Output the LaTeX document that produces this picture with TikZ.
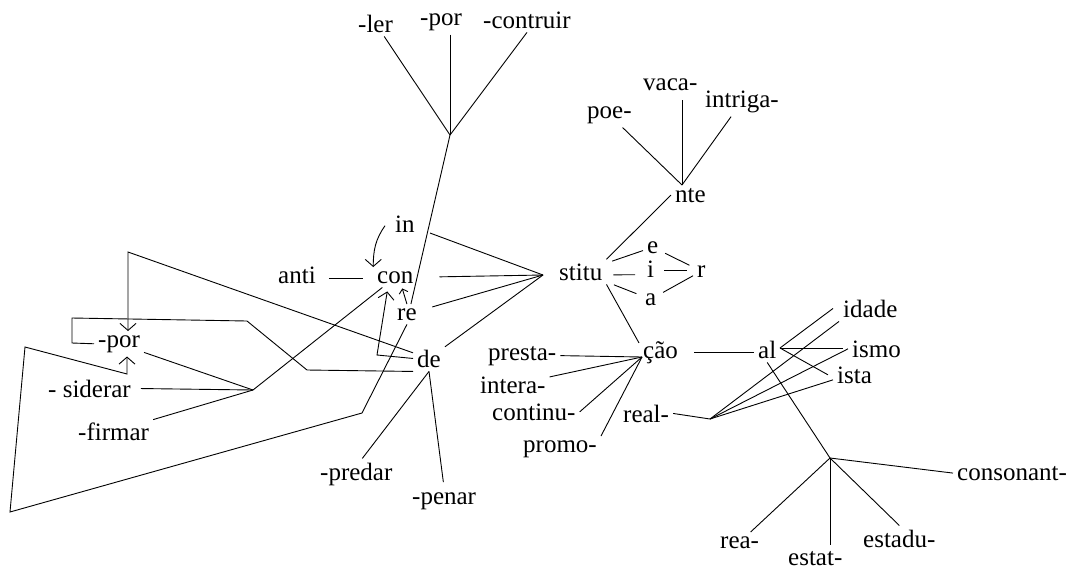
\documentclass[tikz,border=0pt]{standalone}
\usepackage{fontspec}
\setmainfont{Liberation Serif}
\usetikzlibrary{arrows.meta,calc}
\begin{document}
\begin{tikzpicture}[x=1pt,y=-1pt,
  lbl/.style={inner sep=4pt, anchor=base west, font=\fontsize{25}{30}\selectfont},
  ln/.style={line width=0.9pt},
  arr/.style={ln,-{Straight Barb[length=7pt,width=16pt]}},
  sarr/.style={ln,-{Straight Barb[length=4pt,width=9pt]}}]
\useasboundingbox (0,0) rectangle (1073,571);
% labels
\node[lbl] (ler) at (354,32) {-ler};
\node[lbl] (porT) at (416,25) {-por};
\node[lbl] (contruir) at (479,28) {-contruir};
\node[lbl] (poe) at (583,118) {poe-};
\node[lbl] (vaca) at (639,90) {vaca-};
\node[lbl] (intriga) at (701,107) {intriga-};
\node[lbl] (nte) at (671,202) {nte};
\node[lbl] (stitu) at (555,280) {stitu};
\node[lbl] (e) at (643,253) {e};
\node[lbl] (i) at (643,277) {i};
\node[lbl] (a) at (641,305) {a};
\node[lbl] (r) at (693,277) {r};
\node[lbl] (in) at (391,232) {in};
\node[lbl] (con) at (373,283) {con};
\node[lbl] (anti) at (274,283) {anti};
\node[lbl] (re) at (393,320) {re};
\node[lbl] (de) at (413,367) {de};
\node[lbl] (porL) at (94,347) {-por};
\node[lbl] (sid) at (44,397) {- siderar};
\node[lbl] (firmar) at (74,440) {-firmar};
\node[lbl] (predar) at (316,480) {-predar};
\node[lbl] (penar) at (408,504) {-penar};
\node[lbl] (presta) at (484,360) {presta-};
\node[lbl] (intera) at (476,393) {intera-};
\node[lbl] (continu) at (488,420) {continu-};
\node[lbl] (promo) at (519,452) {promo-};
\node[lbl] (cao) at (639,358) {ção};
\node[lbl] (al) at (754,358) {al};
\node[lbl] (real) at (619,422) {real-};
\node[lbl] (idade) at (839,317) {idade};
\node[lbl] (ismo) at (848,357) {ismo};
\node[lbl] (ista) at (833,383) {ista};
\node[lbl] (consonant) at (953,480) {consonant-};
\node[lbl] (rea) at (716,548) {rea-};
\node[lbl, inner sep=2pt] (estat) at (786,565) {estat-};
\node[lbl] (estadu) at (859,547) {estadu-};
% junctions and bends
\coordinate (J1) at (450,135);
\coordinate (P1) at (362,413);
\coordinate (P2) at (10,512);
\coordinate (P3) at (25,347);
\coordinate (P4) at (127,374);
\coordinate (J2) at (253,390);
\coordinate (C1) at (128,252);
\coordinate (B1) at (307,370);
\coordinate (B2) at (247,321);
\coordinate (B3) at (72,318);
\coordinate (B4) at (72,343);
\coordinate (Q1) at (377,355);
\coordinate (S) at (543,275);
\coordinate (N) at (682,185);
\coordinate (J3) at (642,357);
\coordinate (A) at (780,348);
\coordinate (J4) at (710,419);
\coordinate (J5) at (830,458);
% top cluster
\draw[ln] (ler) -- (J1);
\draw[ln] (J1 |- porT.south) -- (J1);
\draw[ln] (contruir.south) -- (J1);
\draw[ln] (J1) -- ([xshift=4pt]re.north);
% left side
\draw[arr] (re.south) -- (P1) -- (P2) -- (P3) -- (P4) -- (P4 |- porL.south);
\draw[arr] (de) -- (C1) -- (C1 |- porL.north);
\draw[ln] (de.south west) -- (B1) -- (B2) -- (B3) -- (B4) -- (porL.west);
\draw[ln,shorten <=6pt] (sid.east) -- (J2);
\draw[ln] (porL) -- (J2);
\draw[ln] (firmar) -- (J2);
\draw[ln] (J2) -- (con);
\draw[arr] (de.west) -- (Q1) -- ([xshift=-8pt,yshift=-4pt]con.south);
\draw[sarr] (re.north) -- ([xshift=7pt,yshift=-1pt]con.south);
\draw[arr] ([xshift=-6pt,yshift=-2pt]in.west) to[out=235,in=90] ([xshift=-22pt]con.north);
\draw[ln,shorten <=9pt,shorten >=10pt] ([yshift=5pt]anti.base east) -- ([yshift=5pt]anti.base east -| con.west);
\draw[ln] (de.south) -- ([xshift=6pt]predar.north);
\draw[ln,shorten >=6pt] (de.south) -- (penar.north);
% to stitu
\draw[ln,shorten <=12pt] (in) -- (S);
\draw[ln,shorten <=22pt] (con.east) -- (S);
\draw[ln,shorten <=12pt] (re) -- (S);
\draw[ln] (de) -- (S);
% stitu branches
\draw[ln,shorten <=6pt] (stitu) -- (e);
\draw[ln,shorten <=7pt,shorten >=8pt] ([yshift=-3pt]stitu.east) -- ([yshift=-6pt]i.west);
\draw[ln,shorten <=8pt,shorten >=5pt] (stitu) -- (a);
\draw[ln,shorten <=3pt,shorten >=4pt] (e) -- (r);
\draw[ln,shorten <=6pt,shorten >=6pt] ([yshift=-2pt]i.east) -- ([yshift=-2pt]i.east -| r.west);
\draw[ln,shorten <=3pt] (a) -- (r);
\draw[ln] (stitu.north east) -- (nte.west);
\draw[ln] (stitu.south east) -- ([yshift=-6pt]cao.north west);
% nte
\draw[ln] (poe) -- (N);
\draw[ln,shorten <=6pt] (N |- vaca.south) -- (N);
\draw[ln] (intriga) -- (N);
% cao
\draw[ln] (presta.east) -- (J3);
\draw[ln] (intera) -- (J3);
\draw[ln] (continu.east) -- (J3);
\draw[ln] (promo.north east) -- (J3);
\draw[ln,shorten <=12pt] (cao.east) -- (cao.east -| al.west);
% al
\draw[ln] (A) -- ([xshift=-6pt]idade.west);
\draw[ln,shorten >=5pt] (A) -- (A -| ismo.west);
\draw[ln] (A) -- ([xshift=-5pt]ista.west);
\draw[ln] (real.east) -- (J4);
\draw[ln] (J4) -- (idade.south west);
\draw[ln] (J4) -- (ismo.west);
\draw[ln] (J4) -- ([yshift=-5pt]ista.west);
\draw[ln] (al.south) -- (J5);
\draw[ln] (J5) -- (consonant.west);
\draw[ln] (J5) -- (rea);
\draw[ln,shorten >=4pt] (J5) -- (J5 |- estat.north);
\draw[ln] (J5) -- (estadu.north);
\end{tikzpicture}
\end{document}
